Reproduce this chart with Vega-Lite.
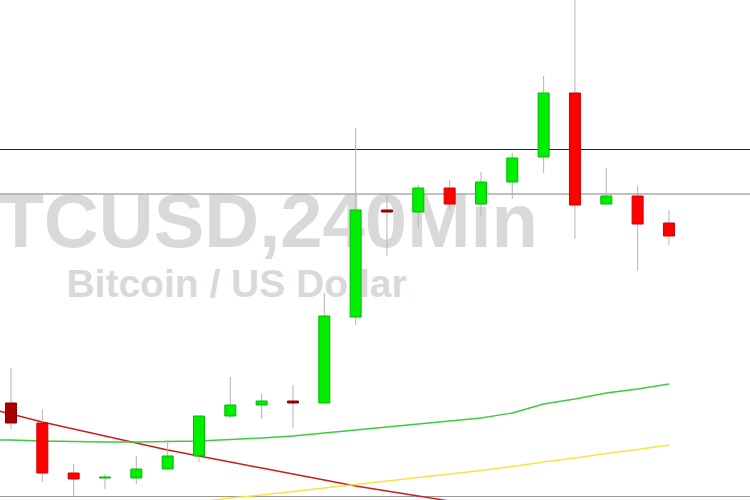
{
  "$schema": "https://vega.github.io/schema/vega-lite/v6.json",
  "width": 750,
  "height": 500,
  "autosize": {"type": "none"},
  "padding": 0,
  "background": "white",
  "config": {"view": {"stroke": null}, "scale": {"continuousPadding": 0}},
  "datasets": {
    "candles": [
      {"i": 1, "open": 6497, "close": 6477, "high": 6532, "low": 6471, "dir": "down2"},
      {"i": 2, "open": 6477, "close": 6427, "high": 6491, "low": 6418, "dir": "down"},
      {"i": 3, "open": 6427, "close": 6421, "high": 6436, "low": 6403, "dir": "down"},
      {"i": 4, "open": 6422, "close": 6423, "high": 6426, "low": 6411, "dir": "up"},
      {"i": 5, "open": 6422, "close": 6431, "high": 6444, "low": 6416, "dir": "up"},
      {"i": 6, "open": 6431, "close": 6444, "high": 6460, "low": 6431, "dir": "up"},
      {"i": 7, "open": 6444, "close": 6484, "high": 6484, "low": 6438, "dir": "up"},
      {"i": 8, "open": 6484, "close": 6495, "high": 6523, "low": 6482, "dir": "up"},
      {"i": 9, "open": 6495, "close": 6499, "high": 6506, "low": 6481, "dir": "up"},
      {"i": 10, "open": 6499, "close": 6497, "high": 6515, "low": 6472, "dir": "down2"},
      {"i": 11, "open": 6497, "close": 6584, "high": 6607, "low": 6497, "dir": "up"},
      {"i": 12, "open": 6583, "close": 6690, "high": 6772, "low": 6575, "dir": "up"},
      {"i": 13, "open": 6690, "close": 6688, "high": 6706, "low": 6644, "dir": "down2"},
      {"i": 14, "open": 6688, "close": 6712, "high": 6715, "low": 6673, "dir": "up"},
      {"i": 15, "open": 6712, "close": 6696, "high": 6720, "low": 6690, "dir": "down"},
      {"i": 16, "open": 6696, "close": 6718, "high": 6728, "low": 6684, "dir": "up"},
      {"i": 17, "open": 6718, "close": 6742, "high": 6747, "low": 6701, "dir": "up"},
      {"i": 18, "open": 6743, "close": 6807, "high": 6824, "low": 6727, "dir": "up"},
      {"i": 19, "open": 6807, "close": 6695, "high": 6905, "low": 6661, "dir": "down"},
      {"i": 20, "open": 6696, "close": 6704, "high": 6732, "low": 6696, "dir": "up"},
      {"i": 21, "open": 6704, "close": 6676, "high": 6714, "low": 6629, "dir": "down"},
      {"i": 22, "open": 6677, "close": 6664, "high": 6690, "low": 6655, "dir": "down"}
    ],
    "ma": [
      {"i": 0, "v": 6494, "s": "trend"},
      {"i": 1, "v": 6486, "s": "trend"},
      {"i": 2, "v": 6478, "s": "trend"},
      {"i": 3, "v": 6471, "s": "trend"},
      {"i": 4, "v": 6464, "s": "trend"},
      {"i": 5, "v": 6457, "s": "trend"},
      {"i": 6, "v": 6450, "s": "trend"},
      {"i": 7, "v": 6444, "s": "trend"},
      {"i": 8, "v": 6438, "s": "trend"},
      {"i": 9, "v": 6432, "s": "trend"},
      {"i": 10, "v": 6426, "s": "trend"},
      {"i": 11, "v": 6420, "s": "trend"},
      {"i": 12, "v": 6414, "s": "trend"},
      {"i": 13, "v": 6409, "s": "trend"},
      {"i": 14, "v": 6404, "s": "trend"},
      {"i": 15, "v": 6399, "s": "trend"},
      {"i": 16, "v": 6394, "s": "trend"},
      {"i": 0, "v": 6460, "s": "fast"},
      {"i": 1, "v": 6460, "s": "fast"},
      {"i": 2, "v": 6459, "s": "fast"},
      {"i": 3, "v": 6458.5, "s": "fast"},
      {"i": 4, "v": 6458, "s": "fast"},
      {"i": 5, "v": 6458, "s": "fast"},
      {"i": 6, "v": 6458.5, "s": "fast"},
      {"i": 7, "v": 6459, "s": "fast"},
      {"i": 8, "v": 6460.5, "s": "fast"},
      {"i": 9, "v": 6462, "s": "fast"},
      {"i": 10, "v": 6464, "s": "fast"},
      {"i": 11, "v": 6467, "s": "fast"},
      {"i": 12, "v": 6470, "s": "fast"},
      {"i": 13, "v": 6473, "s": "fast"},
      {"i": 14, "v": 6476, "s": "fast"},
      {"i": 15, "v": 6479, "s": "fast"},
      {"i": 16, "v": 6482, "s": "fast"},
      {"i": 17, "v": 6487, "s": "fast"},
      {"i": 18, "v": 6496, "s": "fast"},
      {"i": 19, "v": 6501, "s": "fast"},
      {"i": 20, "v": 6507, "s": "fast"},
      {"i": 21, "v": 6511, "s": "fast"},
      {"i": 22, "v": 6516, "s": "fast"},
      {"i": 6, "v": 6394, "s": "slow"},
      {"i": 7, "v": 6398, "s": "slow"},
      {"i": 8, "v": 6402, "s": "slow"},
      {"i": 9, "v": 6405, "s": "slow"},
      {"i": 10, "v": 6408.5, "s": "slow"},
      {"i": 11, "v": 6412, "s": "slow"},
      {"i": 12, "v": 6415.5, "s": "slow"},
      {"i": 13, "v": 6419, "s": "slow"},
      {"i": 14, "v": 6422.5, "s": "slow"},
      {"i": 15, "v": 6426, "s": "slow"},
      {"i": 16, "v": 6429.5, "s": "slow"},
      {"i": 17, "v": 6433.5, "s": "slow"},
      {"i": 18, "v": 6438, "s": "slow"},
      {"i": 19, "v": 6442, "s": "slow"},
      {"i": 20, "v": 6446.5, "s": "slow"},
      {"i": 21, "v": 6450.5, "s": "slow"},
      {"i": 22, "v": 6455, "s": "slow"}
    ],
    "one": [{"k": 1}]
  },
  "resolve": {"scale": {"color": "independent", "fill": "independent", "stroke": "independent"}},
  "layer": [
    {
      "data": {"name": "one"},
      "mark": {"type": "text", "font": "Liberation Sans", "fontWeight": "bold", "fontSize": 76, "color": "#d9d9d9", "align": "right", "baseline": "alphabetic", "clip": true},
      "encoding": {
        "x": {"datum": 17.82, "type": "quantitative", "scale": {"domain": [0.649, 24.587], "nice": false, "zero": false, "padding": 0}, "axis": null},
        "y": {"datum": 6653, "type": "quantitative", "scale": {"domain": [6400, 6900], "nice": false, "zero": false, "padding": 0}, "axis": null},
        "text": {"value": "BTCUSD,240Min"}
      }
    },
    {
      "data": {"name": "one"},
      "mark": {"type": "text", "font": "Liberation Sans", "fontWeight": "bold", "fontSize": 39, "color": "#d9d9d9", "align": "center", "baseline": "alphabetic"},
      "encoding": {
        "x": {"datum": 8.197, "type": "quantitative"},
        "y": {"datum": 6603, "type": "quantitative"},
        "text": {"value": "Bitcoin / US Dollar"}
      }
    },
    {
      "data": {"name": "one"},
      "mark": {"type": "rule", "color": "#222222", "strokeWidth": 1},
      "encoding": {"y": {"datum": 6750.5, "type": "quantitative"}}
    },
    {
      "data": {"name": "one"},
      "mark": {"type": "rule", "color": "#808080", "strokeWidth": 1},
      "encoding": {"y": {"datum": 6706, "type": "quantitative"}}
    },
    {
      "data": {"name": "one"},
      "mark": {"type": "rule", "color": "#9a9a9a", "strokeWidth": 1},
      "encoding": {"y": {"datum": 6403.5, "type": "quantitative"}}
    },
    {
      "data": {"name": "ma"},
      "mark": {"type": "line", "strokeWidth": 1.4, "clip": true},
      "encoding": {
        "x": {"field": "i", "type": "quantitative"},
        "y": {"field": "v", "type": "quantitative"},
        "color": {"field": "s", "type": "nominal", "scale": {"domain": ["fast", "slow", "trend"], "range": ["#3ccc3c", "#f2e640", "#c81e1e"]}, "legend": null}
      }
    },
    {
      "data": {"name": "candles"},
      "mark": {"type": "rule", "color": "#b4b4b4", "strokeWidth": 1, "clip": true},
      "encoding": {
        "x": {"field": "i", "type": "quantitative"},
        "y": {"field": "low", "type": "quantitative"},
        "y2": {"field": "high"}
      }
    },
    {
      "data": {"name": "candles"},
      "mark": {"type": "bar", "size": 11, "strokeWidth": 1, "clip": true},
      "encoding": {
        "x": {"field": "i", "type": "quantitative"},
        "y": {"field": "open", "type": "quantitative"},
        "y2": {"field": "close"},
        "fill": {"field": "dir", "type": "nominal", "scale": {"domain": ["up", "down", "down2"], "range": ["#00ee00", "#ff0000", "#a80000"]}, "legend": null},
        "stroke": {"field": "dir", "type": "nominal", "scale": {"domain": ["up", "down", "down2"], "range": ["#00bb00", "#d00000", "#880000"]}, "legend": null}
      }
    }
  ]
}
